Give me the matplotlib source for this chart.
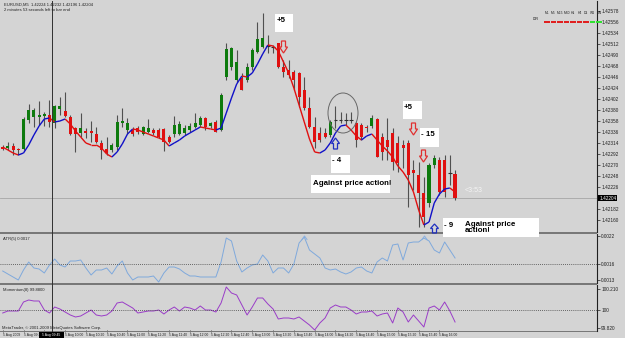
import matplotlib
matplotlib.use("Agg")
import matplotlib.pyplot as plt
import numpy as np
from matplotlib.patches import Polygon, Ellipse, Rectangle
from matplotlib.collections import LineCollection

plt.rcParams["font.family"] = ["Liberation Sans", "DejaVu Sans"]

# EURUSD M5 candles, prices given in points above 1.42000
opens = [306, 304, 308, 302, 302, 360, 366, 366, 368, 370,
         354, 382, 378, 366, 344, 334, 338, 338, 332, 314,
         302, 300, 306, 354, 340, 340, 344, 332, 336, 340,
         340, 342, 326, 332, 332, 334, 340, 346, 350, 364,
         348, 356, 340, 446, 466, 440, 444, 440, 466, 496,
         506, 508, 506, 514, 466, 460, 456, 454, 420, 384,
         346, 334, 334, 330, 360, 360, 360, 360, 354, 350,
         346, 348, 362, 326, 320, 334, 314, 310, 314, 260,
         250, 214, 194, 270, 280, 280, 254, 252]
highs = [310, 316, 314, 304, 366, 392, 384, 398, 376, 400,
         390, 406, 416, 370, 346, 374, 344, 358, 346, 320,
         326, 314, 370, 384, 364, 346, 348, 348, 362, 344,
         344, 344, 330, 368, 358, 350, 354, 374, 368, 366,
         356, 360, 414, 514, 506, 500, 454, 474, 504, 556,
         574, 530, 510, 514, 480, 480, 460, 456, 446, 406,
         366, 346, 344, 360, 388, 376, 374, 376, 356, 354,
         350, 370, 364, 334, 364, 344, 328, 320, 320, 280,
         276, 246, 274, 290, 286, 290, 290, 260]
lows = [300, 300, 290, 290, 300, 354, 346, 350, 348, 346,
        344, 370, 366, 330, 296, 326, 324, 316, 314, 282,
        290, 296, 300, 346, 332, 328, 332, 330, 334, 330,
        324, 298, 314, 326, 330, 330, 336, 344, 346, 340,
        344, 336, 338, 440, 460, 436, 420, 436, 460, 494,
        504, 494, 494, 464, 446, 444, 420, 386, 380, 344,
        304, 316, 324, 326, 344, 354, 350, 354, 306, 320,
        336, 344, 286, 280, 280, 260, 256, 264, 186, 220,
        146, 146, 186, 264, 210, 206, 230, 200]
closes = [302, 308, 300, 301, 362, 380, 380, 370, 372, 356,
          388, 388, 368, 332, 332, 344, 334, 334, 316, 300,
          294, 310, 356, 358, 354, 332, 336, 346, 344, 334,
          326, 316, 316, 350, 352, 344, 348, 354, 364, 346,
          354, 336, 410, 502, 504, 476, 420, 466, 500, 522,
          524, 508, 506, 466, 456, 450, 440, 406, 384, 346,
          316, 320, 326, 356, 360, 360, 360, 360, 320, 326,
          344, 364, 286, 296, 306, 276, 274, 304, 250, 254,
          214, 166, 270, 284, 216, 216, 254, 204]
ma = [306, 300, 294, 290, 294, 310, 330, 348, 362, 364,
      356, 358, 362, 352, 338, 326, 314, 310, 310, 304,
      292, 286, 296, 312, 332, 342, 340, 336, 332, 328,
      324, 320, 308, 314, 320, 328, 334, 340, 346, 344,
      342, 340, 344, 374, 404, 432, 448, 446, 454, 472,
      492, 510, 508, 498, 476, 454, 424, 390, 356, 322,
      296, 294, 300, 314, 334, 348, 350, 340, 328, 320,
      328, 332, 320, 308, 298, 286, 268, 256, 240, 216,
      180, 150, 156, 194, 212, 222, 224, 216]
# ATR(5) in points
atr = [146, 140, 134, 128, 148, 164, 152, 150, 142, 158,
       170, 158, 154, 166, 166, 168, 152, 138, 148, 148,
       152, 140, 156, 166, 142, 128, 134, 134, 134, 136,
       124, 142, 154, 154, 150, 142, 136, 136, 134, 134,
       134, 134, 164, 212, 206, 166, 144, 152, 158, 160,
       178, 166, 142, 152, 152, 142, 160, 202, 214, 188,
       180, 172, 152, 148, 150, 144, 140, 144, 152, 154,
       146, 142, 164, 172, 166, 198, 200, 168, 202, 204,
       204, 212, 206, 188, 182, 204, 188, 172]
momentum = [99.97, 99.99, 99.99, 99.99, 100.08, 100.10, 100.09, 100.09, 100.00, 99.97,
            100.03, 100.01, 99.98, 99.95, 99.93, 99.94, 99.97, 100.00, 99.95, 99.94,
            99.95, 99.99, 100.07, 100.08, 100.05, 100.02, 99.97, 99.98, 99.99, 99.99,
            100.00, 99.96, 100.00, 100.03, 99.99, 100.03, 100.02, 100.00, 100.04, 100.00,
            100.00, 99.98, 100.07, 100.23, 100.17, 100.15, 100.05, 99.95, 100.03, 100.12,
            100.12, 100.06, 100.01, 99.91, 99.92, 99.92, 99.91, 99.93, 99.89, 99.85,
            99.80, 99.87, 99.92, 100.02, 100.05, 100.03, 100.03, 100.00, 99.96, 99.98,
            99.98, 99.99, 99.94, 99.96, 99.97, 99.87, 100.02, 99.98, 99.88, 99.95,
            99.89, 99.83, 100.02, 100.04, 100.00, 100.08, 99.99, 99.88]
# the third label sits under the crosshair time box
date_labels = ["5 Aug 2009", "5 Aug 09:20", "", "5 Aug 10:00", "5 Aug 10:20",
               "5 Aug 10:40", "5 Aug 11:00", "5 Aug 11:20", "5 Aug 11:40", "5 Aug 12:00",
               "5 Aug 12:20", "5 Aug 12:40", "5 Aug 13:00", "5 Aug 13:20", "5 Aug 13:40",
               "5 Aug 14:00", "5 Aug 14:20", "5 Aug 14:40", "5 Aug 15:00", "5 Aug 15:20",
               "5 Aug 15:40", "5 Aug 16:00"]
# 204 is hidden by the current price label
price_ticks = [578 - 22 * k for k in range(20) if k != 17]

base = 1.42
o = base + np.array(opens) / 1e5
h = base + np.array(highs) / 1e5
l = base + np.array(lows) / 1e5
c = base + np.array(closes) / 1e5
ma_p = base + np.array(ma) / 1e5
atr_v = np.array(atr) / 1e5
x = np.arange(len(opens))

bg = "#d4d4d4"
up_col, dn_col, wick_col = "#0d7a0d", "#e01010", "#505050"
W, H = 625, 338
fig = plt.figure(figsize=(6.25, 3.38), dpi=100, facecolor=bg)


def box(x0, y0, x1, y1):
    return [x0 / W, 1 - y1 / H, (x1 - x0) / W, (y1 - y0) / H]


ax = fig.add_axes(box(0, 1, 597, 232))
ax_atr = fig.add_axes(box(0, 234, 597, 283))
ax_mom = fig.add_axes(box(0, 285, 597, 331))
xlim = (-0.52, 114.3)
for a in (ax, ax_atr, ax_mom):
    a.set_facecolor(bg)
    a.set_xlim(*xlim)
    a.yaxis.tick_right()
    a.tick_params(axis="y", labelsize=3.4, length=2, width=0.5, pad=1, colors="#202020")
    for s in ("top", "bottom", "left"):
        a.spines[s].set_visible(False)
    a.spines["right"].set_color("#202020")
    a.spines["right"].set_linewidth(0.8)
ax.set_xticks([])
ax_atr.set_xticks([])

# candles
ax.vlines(x, l, h, color=wick_col, lw=0.8, zorder=2)
for i in x:
    if abs(c[i] - o[i]) < 1e-7:
        ax.hlines(o[i], i - 0.35, i + 0.35, color="#303030", lw=0.8, zorder=3)
    else:
        col = up_col if c[i] > o[i] else dn_col
        ax.bar(i, abs(c[i] - o[i]), bottom=min(o[i], c[i]), width=0.6,
               color=col, lw=0, zorder=3)

# moving average coloured by direction
segs = [[(x[i], ma_p[i]), (x[i + 1], ma_p[i + 1])] for i in range(len(x) - 1)]
cols = ["#1010c8" if ma_p[i + 1] > ma_p[i] else "#e01010" for i in range(len(x) - 1)]
ax.add_collection(LineCollection(segs, colors=cols, lw=1.0, zorder=4))

ax.set_ylim(base + 136 / 1e5, base + 598 / 1e5)
ax.set_yticks([base + v / 1e5 for v in price_ticks])
ax.set_yticklabels([f"{base + v / 1e5:.5f}" for v in price_ticks])
ax.axhline(c[-1], color="#a6a6a6", lw=0.6, zorder=1)
ax.annotate(f"{c[-1]:.5f}", xy=(1.0, c[-1]), xycoords=("axes fraction", "data"),
            xytext=(1.5, 0), textcoords="offset points", fontsize=3.4, color="white",
            va="center", ha="left",
            bbox=dict(boxstyle="square,pad=0.15", fc="black", ec="none"))

# ATR panel
ax_atr.plot(x, atr_v, color="#7fa9dc", lw=0.7)
ax_atr.set_ylim(122e-5, 220e-5)
ax_atr.axhline(160e-5, color="#404040", lw=0.6, ls=(0, (1, 1.5)))
ax_atr.set_yticks([216e-5, 160e-5, 128e-5])
ax_atr.set_yticklabels(["0.0022", "0.0016", "0.0013"])
ax_atr.text(0.005, 0.93, "ATR(5) 0.0017", transform=ax_atr.transAxes,
            fontsize=3, va="top", color="#202020")

# Momentum panel
ax_mom.plot(x, momentum, color="#9a3cc8", lw=0.7)
ax_mom.set_ylim(99.79, 100.25)
ax_mom.axhline(100, color="#404040", lw=0.6, ls=(0, (1, 1.5)))
ax_mom.set_yticks([100.21, 100.0, 99.82])
ax_mom.set_yticklabels(["100.210", "100", "99.820"])
ax_mom.text(0.005, 0.93, "Momentum(8) 99.8800", transform=ax_mom.transAxes,
            fontsize=3, va="top", color="#202020")
ax_mom.text(0.003, 0.02, "MetaTrader, \u00a9 2001-2009 MetaQuotes Software Corp.",
            transform=ax_mom.transAxes, fontsize=3, va="bottom", color="#202020")
ax_mom.set_xticks(np.arange(len(date_labels)) * 4)
ax_mom.set_xticklabels(date_labels)
ax_mom.tick_params(axis="x", labelsize=2.4, length=2, width=0.5, pad=0.5,
                   direction="inout", colors="#202020")
for t in ax_mom.get_xticklabels():
    t.set_ha("left")

# overlay in pixel space for annotations and chart furniture
ov = fig.add_axes([0, 0, 1, 1], zorder=10)
ov.set_xlim(0, W)
ov.set_ylim(H, 0)
ov.axis("off")
ov.patch.set_alpha(0)

for y0, y1 in ((231.5, 234), (283, 285), (330.5, 331.5)):
    ov.add_patch(Rectangle((0, y0), 597, y1 - y0, fc="#787878", ec="none"))
ov.plot([52, 52], [1, 331], color="#303030", lw=0.7)
ov.add_patch(Rectangle((39, 331.5), 25, 6.5, fc="black", ec="none"))
ov.text(51.5, 334.8, "5 Aug 09:45", color="white", fontsize=2.4, ha="center", va="center")

ov.text(4, 4.5, "EURUSD,M5  1.42224 1.42232 1.42196 1.42204", fontsize=3, va="center", color="#202020")
ov.text(4, 10, "2 minutes 53 seconds left to bar end", fontsize=3, va="center", color="#202020")

# direction dashboard (top right)
tfs = ["M1", "M5", "M15", "M30", "H1", "H4", "D1", "W1", "MN"]
for k, tf in enumerate(tfs):
    xx = 544 + 6.5 * k
    ov.text(xx + 3, 12.5, tf, fontsize=2.4, ha="center", va="center", color="#202020")
    ov.add_patch(Rectangle((xx, 20.5), 5.7, 2.4, fc="#e02020" if k < 7 else "#30e030", ec="none"))
ov.text(536, 19.5, "DIR", fontsize=2.6, ha="center", va="center", color="#202020")

ov.text(465, 190, "<3:53", fontsize=5, color="#f4f4f4", va="center")

# circled consolidation
ov.add_patch(Ellipse((343, 113), 30, 40, fc="none", ec="#686868", lw=0.7))

bold = dict(fontsize=5.7, fontweight="bold", family=["Liberation Sans", "DejaVu Sans"],
            color="black", va="center", ha="left")
notes = [((275, 14, 293, 32), (276.5, 20.5), "+5"),
         ((403, 101, 422, 119), (404, 107.5), "+5"),
         ((420, 128, 439, 147), (421, 134), "- 15"),
         ((331, 155, 350, 173), (332.5, 161), "- 4"),
         ((311, 175, 390, 193), (313, 183.5), "Against price action!"),
         ((443, 218, 462, 237), (444.5, 225.5), "- 9"),
         ((462, 218, 539, 237), (465, 227.5), "Against price\naction!")]
for (x0, y0, x1, y1), (tx, ty), txt in notes:
    ov.add_patch(Rectangle((x0, y0), x1 - x0, y1 - y0, fc="white", ec="none"))
    ov.text(tx, ty, txt, linespacing=0.95, **bold)


def arrow(cx, y0, y1, up, col):
    hw, sw = 4, 2
    mid = (y0 + y1) / 2
    if up:
        pts = [(cx, y0), (cx + hw, mid), (cx + sw, mid), (cx + sw, y1),
               (cx - sw, y1), (cx - sw, mid), (cx - hw, mid)]
    else:
        pts = [(cx, y1), (cx + hw, mid), (cx + sw, mid), (cx + sw, y0),
               (cx - sw, y0), (cx - sw, mid), (cx - hw, mid)]
    ov.add_patch(Polygon(pts, closed=True, fc="none", ec=col, lw=0.9))


arrow(283.5, 41, 53, False, "#e03030")
arrow(413.5, 123, 135, False, "#e03030")
arrow(423.5, 150, 162, False, "#e03030")
arrow(335.5, 138, 149, True, "#2030c0")
arrow(434.5, 224, 233, True, "#2030c0")
for cx in (304.5, 424.5):
    ov.plot([cx - 2.5, cx, cx + 2.5], [239.5, 236, 239.5], color="#8ab0e0", lw=0.7)

fig.savefig("out.png", dpi=100, facecolor=bg)
